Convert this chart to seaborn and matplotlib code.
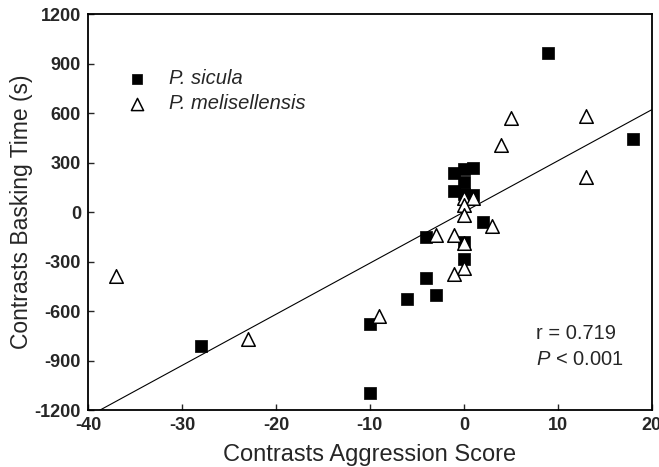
import numpy as np
import pandas as pd
import matplotlib
matplotlib.use("Agg")
import matplotlib.pyplot as plt
import seaborn as sns

# ---- data ----
sicula_x = [-28, -10, -10, -6, -3, -4, -4, 0, 0, 2, -1, 0, 1, 0, -1, 0, 1, 9, 18]
sicula_y = [-810, -680, -1095, -525, -505, -402, -150, -282, -180, -60, 235, 258, 268, 180, 130, 110, 105, 965, 442]

meli_x = [-37, -23, -9, 4, 5, 13, 13, 0, 1, 0, 0, 3, -3, -1, 0, 0, -1]
meli_y = [-390, -772, -628, 408, 568, 582, 214, 83, 83, 42, -18, -85, -139, -139, -190, -341, -376]

fit_slope = 31.0
fit_intercept = 0.0

x_ticks = [-40, -30, -20, -10, 0, 10, 20]
y_ticks = [-1200, -900, -600, -300, 0, 300, 600, 900, 1200]

r_text = "r = 0.719"
p_text = r"$\it{P}$ < 0.001"

sns.set_theme(style="white")
plt.rcParams['font.family'] = ['Liberation Sans', 'DejaVu Sans']
plt.rcParams['mathtext.fontset'] = 'custom'
plt.rcParams['mathtext.it'] = 'Liberation Sans:italic'
plt.rcParams['mathtext.rm'] = 'Liberation Sans'
plt.rcParams['axes.unicode_minus'] = False

df_s = pd.DataFrame({"x": sicula_x, "y": sicula_y})
df_m = pd.DataFrame({"x": meli_x, "y": meli_y})

fig = plt.figure(figsize=(6.59, 4.67), dpi=100)
ax = fig.add_axes([0.1335, 0.122, 0.8555, 0.848])

line_x = np.array([x_ticks[0], x_ticks[-1]], dtype=float)
line_df = pd.DataFrame({"x": line_x, "y": fit_slope * line_x + fit_intercept})
sns.lineplot(data=line_df, x="x", y="y", ax=ax, color="black", linewidth=0.8, zorder=1)

sns.scatterplot(data=df_s, x="x", y="y", ax=ax, marker="s", s=68, color="black",
                edgecolor="black", linewidth=0.5, label="P. sicula", zorder=3)
sns.scatterplot(data=df_m, x="x", y="y", ax=ax, marker="^", s=95, facecolor="white",
                edgecolor="black", linewidth=1.1, label="P. melisellensis", zorder=4)

ax.set_xlim(x_ticks[0], x_ticks[-1])
ax.set_ylim(y_ticks[0], y_ticks[-1])
ax.set_xticks(x_ticks)
ax.set_yticks(y_ticks)
ax.tick_params(direction="in", length=4, width=1, bottom=True, left=True, labelsize=13, pad=5)
for lab in ax.get_xticklabels() + ax.get_yticklabels():
    lab.set_fontweight("bold")
for sp in ax.spines.values():
    sp.set_color("black")
    sp.set_linewidth(1.3)

ax.set_xlabel("Contrasts Aggression Score", fontsize=17, labelpad=7)
ax.set_ylabel("Contrasts Basking Time (s)", fontsize=16.5, labelpad=1)

leg = ax.legend(loc="upper left", bbox_to_anchor=(0.037, 0.882), frameon=False,
                prop={"style": "italic", "size": 14.5}, handletextpad=0.6,
                labelspacing=0.3, borderaxespad=0, markerscale=0.9)

ax.text(7.7, -735, r_text, fontsize=14.5, va="center", ha="left")
ax.text(7.7, -895, p_text, fontsize=14.5, va="center", ha="left")

fig.savefig("out.png", dpi=100)
